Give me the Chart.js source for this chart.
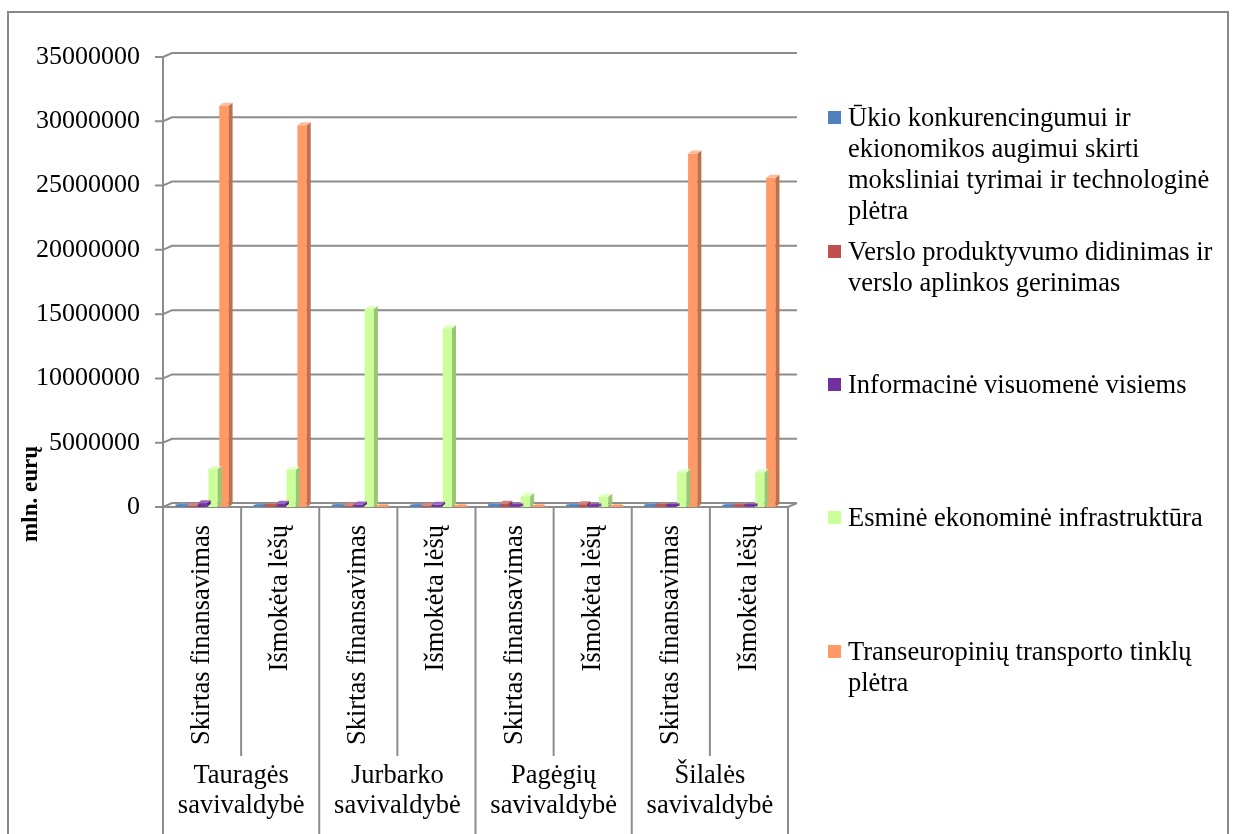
<!DOCTYPE html>
<html>
<head>
<meta charset="utf-8">
<script src="https://cdn.jsdelivr.net/npm/chart.js@4.4.1/dist/chart.umd.min.js"></script>
<style>
  html, body { margin: 0; padding: 0; background: #fff; overflow: hidden; }
  #wrap { position: relative; width: 1235px; height: 834px; }
  #legend { position: absolute; left: 0; top: 0; font-family: 'Liberation Serif', 'Times New Roman', serif; font-size: 26.5px; line-height: 31px; color: #000; }
  .item { position: absolute; left: 828px; width: 405px; }
  .sw { position: absolute; left: 0; top: 9px; width: 13px; height: 13px; }
  .txt { position: absolute; left: 20px; width: 380px; }
</style>
</head>
<body>
<div id="wrap">
  <canvas id="chart" width="1235" height="834"></canvas>
  <div id="legend"></div>
</div>
<script>
const categories = ['Skirtas finansavimas', 'Išmokėta lėšų', 'Skirtas finansavimas', 'Išmokėta lėšų',
                    'Skirtas finansavimas', 'Išmokėta lėšų', 'Skirtas finansavimas', 'Išmokėta lėšų'];
const groups = [['Tauragės', 'savivaldybė'], ['Jurbarko', 'savivaldybė'], ['Pagėgių', 'savivaldybė'], ['Šilalės', 'savivaldybė']];
const seriesNames = [
  'Ūkio konkurencingumui ir ekionomikos augimui skirti moksliniai tyrimai ir technologinė plėtra',
  'Verslo produktyvumo didinimas ir verslo aplinkos gerinimas',
  'Informacinė visuomenė visiems',
  'Esminė ekonominė infrastruktūra',
  'Transeuropinių transporto tinklų plėtra'
];
const ukio = [50000, 30000, 40000, 30000, 60000, 40000, 50000, 30000];
const verslo = [80000, 60000, 120000, 100000, 250000, 220000, 60000, 50000];
const informacine = [300000, 250000, 200000, 180000, 60000, 50000, 70000, 60000];
const esmine = [2950000, 2900000, 15400000, 13900000, 850000, 800000, 2700000, 2700000];
const transeuropiniu = [31200000, 29700000, 0, 0, 0, 0, 27500000, 25600000];
const yTicks = [0, 5000000, 10000000, 15000000, 20000000, 25000000, 30000000, 35000000];

const colors = ['#4F81BD', '#C0504D', '#7030A0', '#CCFF99', '#FF9966'];
const sideColors = ['#3B6491', '#8E3A38', '#52247A', '#99C673', '#BF704A'];
const topColors = ['#7FA3D1', '#D48280', '#9A66C4', '#E0FFC0', '#FFBB99'];
const seriesData = [ukio, verslo, informacine, esmine, transeuropiniu];

const FONT = "'Liberation Serif', 'Times New Roman', serif";
const gridColor = '#8C8C8C';
const DX = 9, DY = 4;     // back wall offset
const bx = 4, by = 3;     // bar depth

const wallPlugin = {
  id: 'wall',
  beforeDatasetsDraw(chart) {
    const { ctx, chartArea: a, scales: { x, y } } = chart;
    ctx.save();
    // outer border
    ctx.strokeStyle = '#888';
    ctx.lineWidth = 2;
    ctx.strokeRect(8, 12, 1220, 900);
    ctx.strokeStyle = gridColor;
    ctx.lineWidth = 2;
    yTicks.forEach(v => {
      const py = y.getPixelForValue(v);
      ctx.beginPath();
      ctx.moveTo(a.left - 8, py);
      ctx.lineTo(a.left, py);
      ctx.lineTo(a.left + DX, py - DY);
      ctx.lineTo(a.right + DX, py - DY);
      ctx.stroke();
    });
    // front axis line and floor front edge
    ctx.beginPath();
    ctx.moveTo(a.left, a.top);
    ctx.lineTo(a.left, a.bottom);
    ctx.lineTo(a.right, a.bottom);
    ctx.lineTo(a.right + DX, a.bottom - DY);
    ctx.stroke();
    // category table
    const catW = (x.getPixelForTick(1) - x.getPixelForTick(0));
    for (let i = 0; i <= categories.length; i++) {
      const px = x.getPixelForTick(0) - catW / 2 + i * catW;
      ctx.beginPath();
      ctx.moveTo(px, a.bottom);
      ctx.lineTo(px, i % 2 === 0 ? 900 : 756);
      ctx.stroke();
    }
    ctx.fillStyle = '#000';
    ctx.font = '26.5px ' + FONT;
    ctx.textAlign = 'center';
    ctx.textBaseline = 'middle';
    groups.forEach((g, i) => {
      const cx = (x.getPixelForTick(2 * i) + x.getPixelForTick(2 * i + 1)) / 2;
      ctx.fillText(g[0], cx, 776);
      ctx.fillText(g[1], cx, 806);
    });
    // y axis title
    ctx.save();
    ctx.translate(31, 494);
    ctx.rotate(-Math.PI / 2);
    ctx.font = 'bold 23px ' + FONT;
    ctx.fillText('mln. eurų', 0, 0);
    ctx.restore();
    ctx.restore();
  },
  afterDatasetsDraw(chart) {
    const { ctx } = chart;
    ctx.save();
    chart.data.datasets.forEach((ds, di) => {
      chart.getDatasetMeta(di).data.forEach(bar => {
        const l = bar.x - bar.width / 2, r = bar.x + bar.width / 2;
        const t = bar.y, b = bar.base;
        ctx.fillStyle = sideColors[di];
        ctx.beginPath();
        ctx.moveTo(r, t); ctx.lineTo(r + bx, t - by); ctx.lineTo(r + bx, b - by); ctx.lineTo(r, b);
        ctx.closePath(); ctx.fill();
        ctx.fillStyle = topColors[di];
        ctx.beginPath();
        ctx.moveTo(l, t); ctx.lineTo(l + bx, t - by); ctx.lineTo(r + bx, t - by); ctx.lineTo(r, t);
        ctx.closePath(); ctx.fill();
        if (b - t < 1) {
          ctx.fillStyle = colors[di];
          ctx.fillRect(l, t - 2, bar.width + bx, 2);
        }
      });
    });
    ctx.restore();
  }
};

new Chart(document.getElementById('chart'), {
  type: 'bar',
  data: {
    labels: categories,
    datasets: seriesData.map((d, i) => ({
      label: seriesNames[i],
      data: d,
      backgroundColor: colors[i],
      borderWidth: 0,
      categoryPercentage: 0.7,
      barPercentage: 0.85
    }))
  },
  options: {
    responsive: false,
    animation: false,
    events: [],
    layout: { padding: { left: 8, right: 447, top: 57, bottom: 0 } },
    plugins: { legend: { display: false }, tooltip: { enabled: false } },
    scales: {
      x: {
        grid: { display: false, drawTicks: false },
        border: { display: false },
        ticks: { color: '#000', font: { family: FONT, size: 26.5 }, minRotation: 90, maxRotation: 90, padding: 18, autoSkip: false },
        afterFit: s => { s.height = 327; }
      },
      y: {
        min: 0, max: 35000000,
        grid: { display: false, drawTicks: false },
        border: { display: false },
        afterBuildTicks: s => { s.ticks = yTicks.map(v => ({ value: v })); },
        ticks: { color: '#000', font: { family: FONT, size: 26 }, padding: 23, callback: v => String(v) },
        afterFit: s => { s.width = 155; }
      }
    }
  },
  plugins: [wallPlugin]
});

// legend
const legendTops = [102, 236, 369, 502, 636];
const legend = document.getElementById('legend');
seriesNames.forEach((n, i) => {
  const it = document.createElement('div');
  it.className = 'item';
  it.style.top = legendTops[i] + 'px';
  it.innerHTML = '<div class="sw" style="background:' + colors[i] + '"></div><div class="txt"></div>';
  it.querySelector('.txt').textContent = n;
  legend.appendChild(it);
});
</script>
</body>
</html>
